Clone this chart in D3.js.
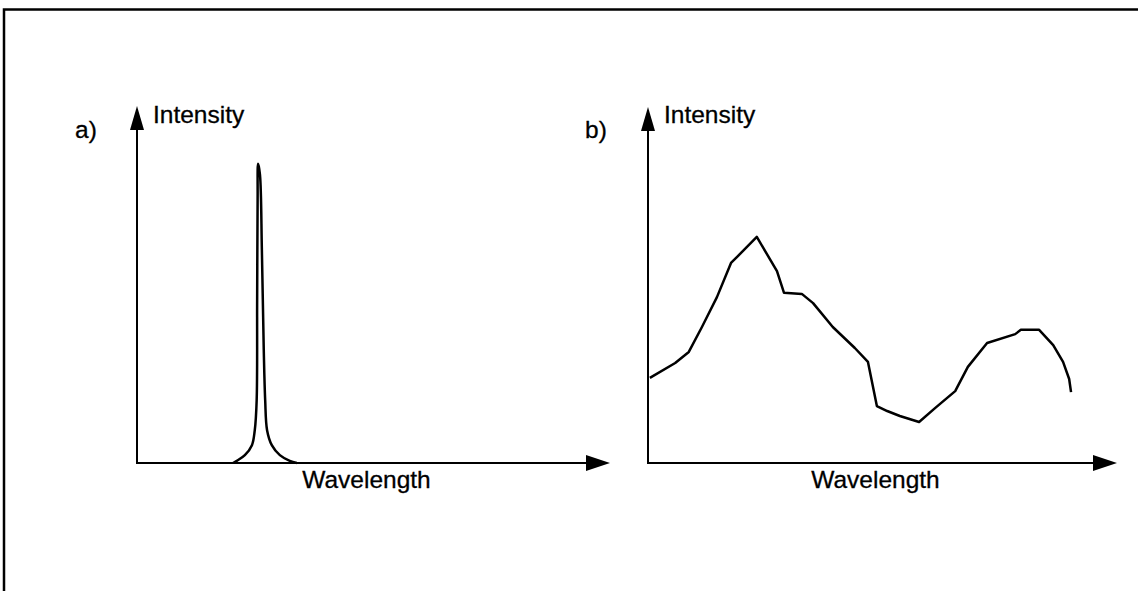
<!DOCTYPE html>
<html>
<head>
<meta charset="utf-8">
<script src="https://cdn.jsdelivr.net/npm/d3@7"></script>
<style>
  body { margin: 0; background: #fff; }
  svg text { font-family: "Liberation Sans", Arial, sans-serif; font-size: 24.5px; fill: #000; stroke: #000; stroke-width: 0.3px; }
</style>
</head>
<body>
<svg id="chart" width="1138" height="591"></svg>
<script>
// panel a: narrow emission line (arbitrary units, 0-100)
const peakWavelength = [20.3, 21.1, 22.8, 24.3, 24.9, 25.3, 25.4, 25.5, 25.6, 26.0, 26.4, 26.8, 27.1, 27.5, 28.5, 30.2, 32.3, 33.8];
const peakIntensity  = [0, 0.6, 2.2, 5.0, 9.2, 17.6, 45.7, 73.7, 83.8, 80.7, 59.7, 31.7, 17.6, 9.2, 5.0, 2.2, 0.6, 0];

// panel b: broad spectrum
const broadWavelength = [0.4, 5.8, 8.7, 11.5, 14.7, 17.7, 19.0, 23.2, 27.5, 29.0, 32.8, 35.2, 39.4, 44.1, 46.9, 48.8, 51.0, 53.7, 57.8, 61.2, 65.5, 68.2, 72.3, 78.3, 79.5, 83.4, 86.4, 88.5, 89.8, 90.2];
const broadIntensity  = [23.9, 28.1, 31.2, 38.2, 46.6, 56.2, 57.9, 63.5, 53.9, 47.8, 47.5, 44.9, 38.2, 32.3, 28.4, 16.0, 14.6, 13.2, 11.5, 15.4, 20.2, 27.0, 33.7, 36.2, 37.4, 37.4, 33.1, 28.4, 23.6, 19.9];

const panelLabels = ["a)", "b)"];
const xTitle = "Wavelength";
const yTitle = "Intensity";

const svg = d3.select("#chart");

// frame (only top and left edges visible in the scan)
svg.append("path")
  .attr("d", "M4,591 L4,9.5 L1138,9.5")
  .attr("fill", "none")
  .attr("stroke", "#000")
  .attr("stroke-width", 2.5);

const panels = [
  { label: panelLabels[0], wl: peakWavelength, it: peakIntensity,
    x: d3.scaleLinear().domain([0, 100]).range([137, 610]),
    y: d3.scaleLinear().domain([0, 100]).range([463, 106]),
    labelPos: [75, 138], curve: d3.curveCatmullRom },
  { label: panelLabels[1], wl: broadWavelength, it: broadIntensity,
    x: d3.scaleLinear().domain([0, 100]).range([648, 1117]),
    y: d3.scaleLinear().domain([0, 100]).range([463, 107]),
    labelPos: [585, 138], curve: d3.curveLinear }
];

panels.forEach(p => {
  const g = svg.append("g");
  const [x0, x1] = p.x.range();
  const [y0, y1] = p.y.range();

  // axes
  g.append("path")
    .attr("d", `M${x0},${y1 + 20} L${x0},${y0} L${x1 - 20},${y0}`)
    .attr("fill", "none")
    .attr("stroke", "#000")
    .attr("stroke-width", 2);

  // arrow heads
  g.append("path")
    .attr("d", `M${x0},${y1} L${x0 - 7},${y1 + 24} L${x0 + 7},${y1 + 24} Z`)
    .attr("fill", "#000");
  g.append("path")
    .attr("d", `M${x1},${y0} L${x1 - 24},${y0 - 8} L${x1 - 24},${y0 + 8} Z`)
    .attr("fill", "#000");

  // titles
  g.append("text")
    .attr("x", x0 + 16)
    .attr("y", 123)
    .text(yTitle);
  g.append("text")
    .attr("x", (x0 + x1) / 2 - 7)
    .attr("y", 488)
    .style("text-anchor", "middle")
    .text(xTitle);
  g.append("text")
    .attr("x", p.labelPos[0])
    .attr("y", p.labelPos[1])
    .text(p.label);

  // spectrum
  const pts = p.wl.map((w, i) => [w, p.it[i]]);
  const line = d3.line()
    .x(d => p.x(d[0]))
    .y(d => p.y(d[1]))
    .curve(p.curve);
  g.append("path")
    .datum(pts)
    .attr("d", line)
    .attr("fill", "none")
    .attr("stroke", "#000")
    .attr("stroke-width", 2.5)
    .attr("stroke-linejoin", "round");
});
</script>
</body>
</html>
